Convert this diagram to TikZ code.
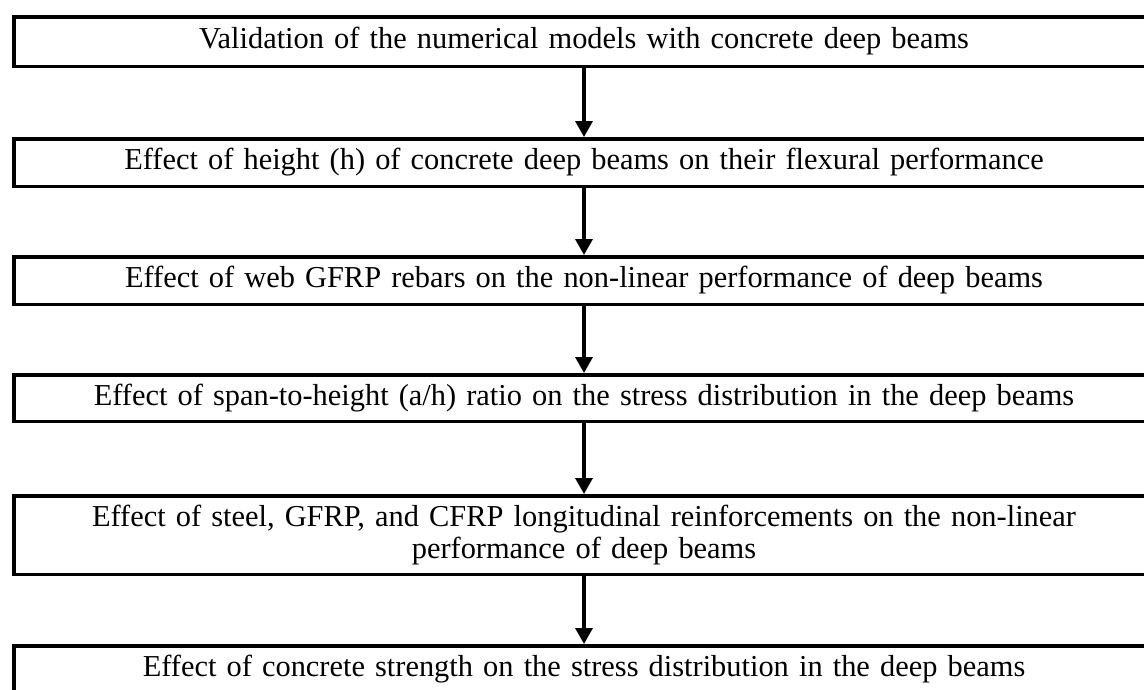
\documentclass[tikz,border=0pt]{standalone}
\usepackage{fontspec}
\setmainfont{Liberation Serif}
\usetikzlibrary{arrows.meta}

\begin{document}
\begin{tikzpicture}[x=1pt, y=-1pt]
			\def\lw{3.5pt};
			\def\cx{584};
			\tikzset{
				stage/.style = {draw, line width = \lw, minimum width = 1140pt, minimum height = 47.5pt,
					text width = 1120pt, align = center, inner sep = 0pt,
					font = \fontsize{30.4}{32.5}\selectfont}
			}
			
			\useasboundingbox (0,0) rectangle (1144,689);
			\clip (0,0) rectangle (1144,689);
			
			\node [stage, minimum height = 49.5pt] (valid) at (\cx,41.5) {Validation of the numerical models with concrete deep beams};
			\node [stage] (height) at (\cx,162.5) {Effect of height (h) of concrete deep beams on their flexural performance};
			\node [stage] (web) at (\cx,280.5) {Effect of web GFRP rebars on the non-linear performance of deep beams};
			\node [stage, minimum height = 46.5pt] (span) at (\cx,398) {Effect of span-to-height (a/h) ratio on the stress distribution in the deep beams};
			\node [stage, minimum height = 78.5pt] (long) at (\cx,535) {Effect of steel, GFRP, and CFRP longitudinal reinforcements on the non-linear\\performance of deep beams};
			\node [stage] (strength) at (\cx,669.5) {Effect of concrete strength on the stress distribution in the deep beams};
			
			\begin{scope}[line width = \lw, -{Triangle[length = 16pt, width = 17pt]}]
				\draw (valid) -- (height);
				\draw (height) -- (web);
				\draw (web) -- (span);
				\draw (span) -- (long);
				\draw (long) -- (strength);
			\end{scope}
		\end{tikzpicture}
\end{document}
